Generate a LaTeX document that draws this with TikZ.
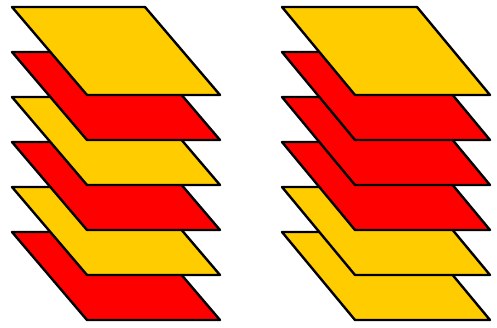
\documentclass[tikz,border=0pt]{standalone}
\usepackage{tikz}
\definecolor{layeryellow}{rgb}{1.000,0.800,0.000}
\definecolor{layerred}{rgb}{1.000,0.000,0.000}

\begin{document}
\begin{tikzpicture}[
        x=1pt, y=-1pt,
        layer/.style={draw=black, line width=2.4pt, line join=round},
    ]
        \useasboundingbox (0,0) rectangle (497,327);
        % Left stack (bottom layer drawn first)
        \foreach \i/\c in {5/layerred, 4/layeryellow, 3/layerred, 2/layeryellow, 1/layerred, 0/layeryellow} {
            \draw[layer, fill=\c] (12,{7+45*\i}) -- ++(133,0) -- ++(75,88) -- ++(-133,0) -- cycle;
        }
        % Right stack
        \foreach \i/\c in {5/layeryellow, 4/layeryellow, 3/layerred, 2/layerred, 1/layerred, 0/layeryellow} {
            \draw[layer, fill=\c] (282,{7+45*\i}) -- ++(135,0) -- ++(73,88) -- ++(-135,0) -- cycle;
        }
    \end{tikzpicture}
\end{document}
